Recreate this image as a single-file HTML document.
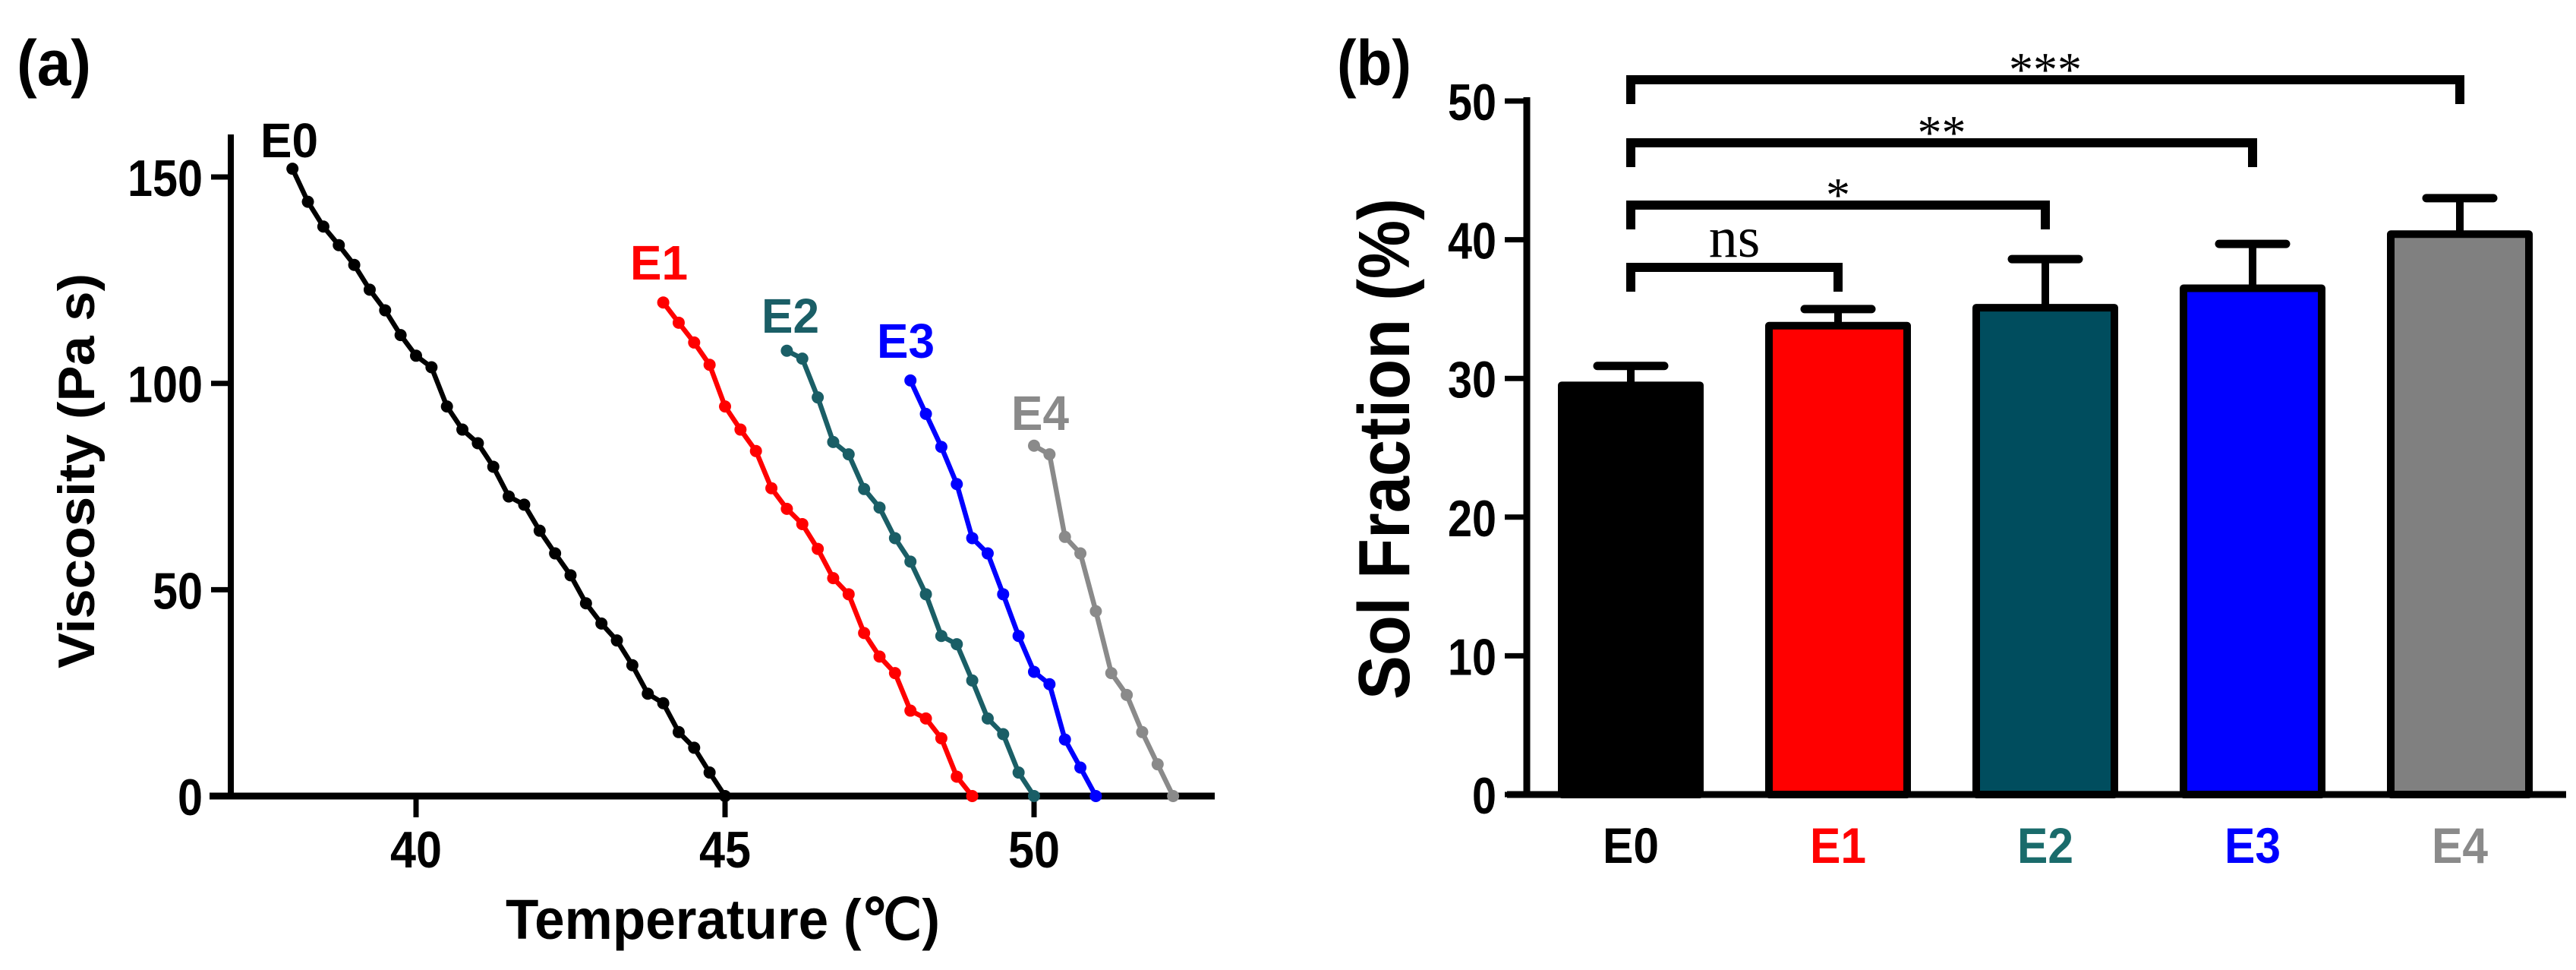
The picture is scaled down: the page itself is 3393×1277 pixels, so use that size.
<!DOCTYPE html>
<html><head><meta charset="utf-8"><style>
html,body{margin:0;padding:0;background:#fff;}
svg{display:block;}
text{font-family:"Liberation Sans",Arial,sans-serif;font-weight:bold;}
text.serif{font-family:"Liberation Serif",serif;font-weight:normal;}
</style></head><body>
<svg id="fig" width="3393" height="1277" viewBox="0 0 3393 1277" xmlns="http://www.w3.org/2000/svg">
<text x="22" y="112" font-size="84" textLength="98" lengthAdjust="spacingAndGlyphs">(a)</text>
<text x="1761" y="112" font-size="84" textLength="98" lengthAdjust="spacingAndGlyphs">(b)</text>
<g id="left"></g>
<g id="right"></g>
</svg>
<script>
// ---- Panel (a) data ----
const seriesNames = ["E0","E1","E2","E3","E4"];
const seriesColors = ["#000000","#ff0000","#1a5e66","#0000ff","#8a8a8a"];
const startTemps = [38, 44, 46, 48, 50];
const tempStep = 0.25;
const e0Values = [152,144,138,133.5,128.7,122.7,117.7,111.7,106.7,103.9,94.4,88.8,85.5,79.8,72.6,70.6,64.3,58.8,53.5,46.7,41.8,37.7,31.7,24.8,22.5,15.5,11.7,5.7,0];
const e1Values = [119.6,114.7,109.9,104.5,94.4,88.8,83.6,74.6,69.6,65.9,59.9,52.8,48.9,39.5,33.8,29.8,20.7,18.8,14,4.7,0];
const e2Values = [107.9,106,96.6,85.8,82.8,74.4,69.9,62.5,56.8,48.9,38.8,36.8,28,18.8,15,5.7,0];
const e3Values = [100.7,92.6,84.6,75.6,62.5,58.8,48.9,38.8,30.1,27.1,13.7,6.9,0];
const e4Values = [84.9,82.8,62.8,58.8,44.8,29.8,24.5,15.5,7.7,0];
const xTicksA = [40, 45, 50];
const yTicksA = [0, 50, 100, 150];
// ---- Panel (b) data ----
const categories = ["E0","E1","E2","E3","E4"];
const barColors = ["#000000","#ff0000","#004d5e","#0000ff","#808080"];
const labelColors = ["#000000","#ff0000","#1a6b6b","#0000ff","#8a8a8a"];
const barMeans = [29.5, 33.8, 35.1, 36.5, 40.4];
const barErrors = [1.4, 1.2, 3.5, 3.2, 2.6];
const yTicksB = [0, 10, 20, 30, 40, 50];
const sigLabels = ["ns","*","**","***"];
const sigTargets = [1, 2, 3, 4];

const NS = "http://www.w3.org/2000/svg";
function mk(parent, tag, attrs, txt){
  const e = document.createElementNS(NS, tag);
  for (const k in attrs) e.setAttribute(k, attrs[k]);
  if (txt !== undefined) e.textContent = txt;
  parent.appendChild(e); return e;
}
// ---- Panel (a) ----
const L = document.getElementById('left');
const xA = t => 548 + (t - 40) * 81.4;
const yA = v => 1048 - v * 5.433;
let el;
el = mk(L,'line',{x1:304,y1:177,x2:304,y2:1052,stroke:'#000','stroke-width':8});


el = mk(L,'line',{x1:276,y1:1048,x2:1600,y2:1048,stroke:'#000','stroke-width':9});


yTicksA.forEach(v=>{
  el = mk(L,'line',{x1:278,y1:yA(v),x2:304,y2:yA(v),stroke:'#000','stroke-width':7});
  
  
  const s = String(v);
  el = mk(L,'text',{x:267,y:yA(v)+25,'font-size':68,'text-anchor':'end',textLength:s.length*33,lengthAdjust:'spacingAndGlyphs'},s);
  
  
});
xTicksA.forEach(t=>{
  el = mk(L,'line',{x1:xA(t),y1:1048,x2:xA(t),y2:1076,stroke:'#000','stroke-width':7});
  
  
  el = mk(L,'text',{x:xA(t),y:1142,'font-size':68,'text-anchor':'middle',textLength:68,lengthAdjust:'spacingAndGlyphs'},String(t));
  
  
});
el = mk(L,'text',{x:666,y:1236,'font-size':74,textLength:572,lengthAdjust:'spacingAndGlyphs'},'Temperature (℃)');


el = mk(L,'text',{x:0,y:0,'font-size':68,'text-anchor':'middle',textLength:520,lengthAdjust:'spacingAndGlyphs',transform:'translate(124,620) rotate(-90)'},'Viscosity (Pa s)');


const allSeries = [e0Values,e1Values,e2Values,e3Values,e4Values];
const labelPos = [[343,207],[830,368],[1003,438],[1155,471],[1332,566]];
allSeries.forEach((vals,i)=>{
  const pts = vals.map((v,j)=>[xA(startTemps[i]+j*tempStep), yA(v)]);
  el = mk(L,'polyline',{points:pts.map(p=>p.join(',')).join(' '),fill:'none',stroke:seriesColors[i],'stroke-width':6.5,'stroke-linejoin':'round'});
  
  
  pts.forEach(p=>{
    el = mk(L,'circle',{cx:p[0],cy:p[1],r:8,fill:seriesColors[i]});
    
    
  });
  el = mk(L,'text',{x:labelPos[i][0],y:labelPos[i][1],'font-size':64,fill:seriesColors[i],textLength:76,lengthAdjust:'spacingAndGlyphs'},seriesNames[i]);
  
  
});
// ---- Panel (b) ----
const R = document.getElementById('right');
const xB = i => 2148 + i * 273;
const yB = v => 1046 - v * 18.26;
const bw = 182;
categories.forEach((c,i)=>{
  const cx = xB(i), top = yB(barMeans[i]), et = yB(barMeans[i]+barErrors[i]);
  el = mk(R,'line',{x1:cx,y1:top,x2:cx,y2:et,stroke:'#000','stroke-width':10});
  
  
  el = mk(R,'line',{x1:cx-44,y1:et,x2:cx+44,y2:et,stroke:'#000','stroke-width':11,'stroke-linecap':'round'});
  
  
  el = mk(R,'rect',{x:cx-bw/2,y:top,width:bw,height:1046-top,fill:barColors[i],stroke:'#000','stroke-width':10,'stroke-linejoin':'round'});
  
  
  el = mk(R,'text',{x:cx,y:1136,'font-size':66,'text-anchor':'middle',fill:labelColors[i],textLength:74,lengthAdjust:'spacingAndGlyphs'},c);
  
  
});
el = mk(R,'line',{x1:2011,y1:128,x2:2011,y2:1050,stroke:'#000','stroke-width':9});


el = mk(R,'line',{x1:1985,y1:1046,x2:3380,y2:1046,stroke:'#000','stroke-width':9});


yTicksB.forEach(v=>{
  el = mk(R,'line',{x1:1982,y1:yB(v),x2:2011,y2:yB(v),stroke:'#000','stroke-width':7});
  
  
  const s = String(v);
  el = mk(R,'text',{x:1971,y:yB(v)+25,'font-size':68,'text-anchor':'end',textLength:s.length*32,lengthAdjust:'spacingAndGlyphs'},s);
  
  
});
el = mk(R,'text',{x:0,y:0,'font-size':96,'text-anchor':'middle',textLength:660,lengthAdjust:'spacingAndGlyphs',transform:'translate(1856,591) rotate(-90)'},'Sol Fraction (%)');


const brY = [352, 270, 188, 105];
sigLabels.forEach((s,k)=>{
  const x1 = xB(0), x2 = xB(sigTargets[k]), y = brY[k];
  el = mk(R,'path',{d:`M${x1},${y+32} V${y} H${x2} V${y+32}`,fill:'none',stroke:'#000','stroke-width':12});
  
  
  const isNs = s==='ns';
  el = mk(R,'text',{class:'serif',x:(x1+x2)/2,y:isNs? y-14 : y+8,'font-size':isNs?76:64,'text-anchor':'middle'},s);
  
  
});
</script>
</body></html>
